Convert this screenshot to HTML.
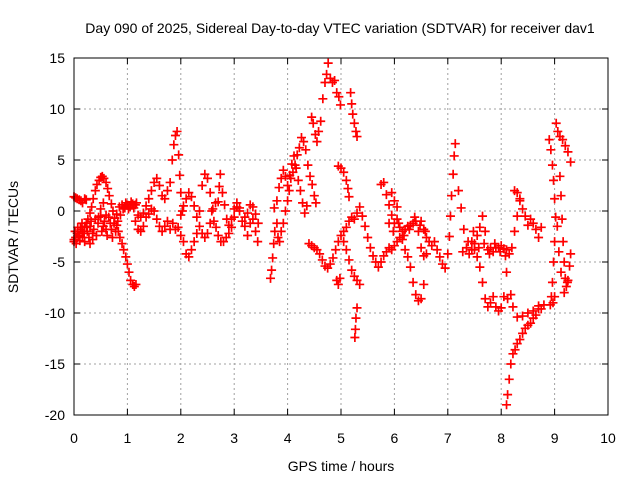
<!DOCTYPE html>
<html><head><meta charset="utf-8"><style>
body{margin:0;background:#fff}
svg text{font-family:"Liberation Sans",sans-serif;font-size:14px;fill:#000}
</style></head><body>
<svg id="chart" width="640" height="480" xmlns="http://www.w3.org/2000/svg">
<text x="340" y="33" text-anchor="middle">Day 090 of 2025, Sidereal Day-to-day VTEC variation (SDTVAR) for receiver dav1</text>
<text x="341" y="471" text-anchor="middle">GPS time / hours</text>
<text transform="translate(18,237) rotate(-90)" text-anchor="middle">SDTVAR / TECUs</text>
<g id="grid"></g>
<g id="ticks"></g>
<g id="marks"></g>
<rect x="74" y="58" width="534" height="357" fill="none" stroke="#000" stroke-width="1"/>
</svg>
<script>
const xTicks=[0,1,2,3,4,5,6,7,8,9,10];
const yTicks=[15,10,5,0,-5,-10,-15,-20];
const arcA=[[0,-3],[0.03,-2.6],[0.06,-2.2],[0.1,-2.5],[0.13,-1.8],[0.16,-2],[0.2,-1.5],[0.23,-1.2],[0.26,-0.8],[0.3,-0.2],[0.33,0.4],[0.36,1.2],[0.4,2],[0.43,2.6],[0.47,3],[0.5,3.3],[0.53,3.4],[0.56,3.2],[0.6,2.8],[0.63,2.2],[0.66,1.5],[0.7,0.7],[0.73,0],[0.76,-0.7],[0.8,-1.4],[0.83,-2],[0.86,-2.6],[0.9,-3.2],[0.93,-3.8],[0.97,-4.5],[1.0,-5.2],[1.03,-6],[1.06,-6.8],[1.1,-7.2],[1.13,-7.4],[1.16,-7.2]];
const arcB=[[0,1.4],[0.03,1.3],[0.06,1.2],[0.1,1.1],[0.13,1.0],[0.16,0.8],[0.2,1.2],[0.23,1.1]];
const arcC=[[0,-2.8],[0.04,-3.2],[0.08,-2.4],[0.12,-1.6],[0.16,-2.6],[0.2,-3],[0.25,-2],[0.3,-1.5],[0.35,-2.2],[0.4,-0.8],[0.45,-1.2],[0.5,-0.5],[0.55,-1.5],[0.6,-1.8],[0.65,-0.6],[0.7,-1.8],[0.75,-1.2],[0.8,-0.3],[0.85,0.4],[0.9,0.6],[0.95,0.3],[1.0,0.6],[1.05,0.4],[1.1,0.7],[1.15,0.6],[1.2,-0.4],[1.25,-0.6],[1.3,-0.2],[1.35,0.5],[1.4,1.2],[1.45,2],[1.5,2.8],[1.55,3.2],[1.6,2.5],[1.65,1.5],[1.7,1.2],[1.75,2],[1.8,2.8],[1.84,5],[1.87,6.5],[1.9,7.4],[1.93,7.8],[1.96,5.5],[1.98,3.5],[2.0,1.8],[2.03,0]];
const arcC2=[[0.02,-2],[0.07,-1.6],[0.11,-2.9],[0.15,-1.2],[0.19,-2.2],[0.24,-1.6],[0.28,-2.6],[0.32,-1],[0.37,-1.8],[0.42,-2.4],[0.46,-0.6],[0.52,-2],[0.57,-1],[0.62,-2.4],[0.68,-1.2],[0.72,-2.6],[0.78,-2],[0.82,-1],[0.87,-0.4],[0.92,0.2],[0.97,0.8],[1.02,0.2],[1.07,0.9],[1.12,0.3],[1.17,0.8],[0.5,0.2],[0.55,0.8],[0.6,-0.4],[0.3,-3.2],[0.35,-2.8]];
const arcD=[[1.15,-1],[1.2,-1.8],[1.25,-2],[1.3,-1.5],[1.35,-0.6],[1.4,-0.3],[1.45,0.2],[1.5,0],[1.55,-0.8],[1.6,-1.5],[1.65,-2],[1.7,-1.5],[1.75,-1],[1.8,-1.8],[1.85,-1.2],[1.9,-1.8],[1.95,-1.6],[2.0,-2.4],[2.05,-3],[2.1,-4.2],[2.15,-4.5],[2.2,-3.8],[2.25,-3],[2.3,-2.2],[2.35,0],[2.4,2.5],[2.45,3.6],[2.5,3.2],[2.55,1.8],[2.58,0],[2.62,-1],[2.66,-1.6],[2.7,-2.4],[2.75,-3],[2.8,-3],[2.85,-2.6],[2.9,-2.2],[2.95,-1.6],[3.0,-0.6],[3.05,0.4],[3.1,0],[3.15,-1],[3.2,-0.6],[3.25,-0.2],[3.3,0.6],[3.35,-0.8],[3.4,-2],[3.44,-3]];
const arcE=[[2.0,-0.4],[2.05,0.5],[2.1,1.2],[2.15,1.8],[2.2,1.4],[2.25,0.5],[2.3,-0.6],[2.35,-1.5],[2.4,-2.2],[2.45,-2.6],[2.5,-2.2],[2.55,-1.2],[2.6,0.2],[2.65,0.8],[2.7,0.9],[2.72,2.4],[2.74,3.6],[2.78,1.8],[2.82,0.6],[2.86,-0.8],[2.9,-1.4],[2.95,-0.8],[3.0,0.2],[3.05,0.8],[3.1,0.3],[3.2,-1.5],[3.25,-2.4],[3.3,-1.2],[3.35,0.4],[3.4,-0.3],[3.45,-1.2]];
const arcF=[[3.68,-6.6],[3.7,-5.8],[3.72,-4.6],[3.74,-3.2],[3.76,-2],[3.8,-1.2],[3.82,-2.6],[3.85,-3],[3.88,-2],[3.92,-1.2],[3.96,0],[4.0,1],[4.03,2],[4.06,3.2],[4.1,3.8],[4.14,4.5],[4.18,5.5],[4.22,6.2],[4.26,7.2],[4.3,6.8],[4.34,6],[4.38,4.5],[4.42,3.4],[4.46,2.6],[4.5,1.5],[4.53,0.8]];
const arcG=[[3.75,0.3],[3.8,1],[3.84,2.3],[3.88,3.2],[3.92,4],[3.96,3.4],[4.0,2.5],[4.04,3.5],[4.08,4.6],[4.12,5.4],[4.16,4.2],[4.2,3],[4.24,2],[4.28,0.8],[4.32,-0.2],[4.36,0.5]];
const arcH=[[4.45,9.2],[4.48,8.6],[4.52,7.5],[4.55,6.8],[4.58,7.8],[4.62,8.8],[4.66,11],[4.7,12.6],[4.73,13.4],[4.76,14.5],[4.8,13],[4.84,12.6],[4.88,12.8],[4.92,11.6],[4.96,11.2],[4.99,10.4]];
const arcI=[[4.4,-3.2],[4.45,-3.4],[4.5,-3.6],[4.55,-3.8],[4.6,-4.2],[4.65,-4.8],[4.7,-5.4],[4.75,-5.6],[4.8,-5.2],[4.85,-4.6],[4.9,-3.8],[4.95,-3],[5.0,-2.4],[5.05,-2],[5.1,-1.6],[5.15,-1],[5.2,-0.6],[5.25,-0.8],[5.3,-0.2],[5.35,0.4]];
const arcJ=[[4.95,4.4],[5.0,4.2],[5.05,3.8],[5.1,3],[5.13,2.2],[5.15,1.4],[5.05,-3],[5.1,-3.8],[5.15,-4.8],[5.2,-5.8],[5.25,-6.4],[5.3,-6.8],[5.35,-7.2],[4.92,-6.8],[4.95,-7.2],[4.98,-6.6]];
const arcK=[[5.18,11.6],[5.2,10.5],[5.22,9.5],[5.25,8.6],[5.28,7.8],[5.3,7.3],[5.3,-9.5],[5.28,-10.5],[5.27,-11.6],[5.26,-12.4]];
const arcL=[[5.4,-0.5],[5.45,-1.5],[5.5,-2.6],[5.55,-3.6],[5.6,-4.4],[5.65,-5],[5.7,-5.5],[5.75,-5],[5.8,-4.4],[5.85,-4],[5.9,-3.6],[5.95,-3.8],[6.0,-3.4],[6.05,-3],[6.1,-2.6],[6.15,-2],[6.2,-1.8],[6.25,-1.5],[6.3,-1.4],[6.35,-1.2],[6.4,-1],[6.45,-2],[6.5,-3.6],[6.55,-4.4],[6.6,-4.2]];
const arcM=[[5.75,2.6],[5.8,2.8],[5.85,1.6],[5.9,0.6],[5.95,-0.4],[6.0,-1.2],[6.05,-0.8],[6.1,-1.6],[6.15,-2.8],[6.2,-3.8],[6.25,-4.5],[6.3,-5.5],[6.35,-7],[6.4,-8.2],[6.45,-8.8],[6.5,-8.6],[6.55,-7.2],[5.95,1.8],[6.0,1],[6.05,0.4]];
const arcN=[[6.5,-1],[6.55,-1.8],[6.6,-2.6],[6.65,-3],[6.7,-3.4],[6.75,-3],[6.8,-3.8],[6.85,-4.5],[6.9,-5.2],[6.95,-5.6],[7.0,-4.2],[7.03,-2.5],[7.05,-0.5],[7.07,1.5],[7.1,3.6],[7.12,5.4],[7.14,6.6]];
const arcO=[[7.2,2],[7.25,0.3],[7.3,-1.8],[7.35,-3.6],[7.4,-4.2],[7.45,-3.8],[7.5,-3.2],[7.55,-2.4],[7.6,-1.6],[7.65,-0.5],[7.7,-2],[7.75,-3.8],[7.8,-3.6],[7.85,-4],[7.9,-3.6],[7.95,-3.6],[8.0,-3.4],[8.05,-3.7],[8.1,-3.8],[8.15,-4.2],[8.2,-3.6],[8.25,-2],[8.3,-0.5],[8.35,1.2]];
const arcP=[[7.45,-3],[7.5,-3.8],[7.55,-4.5],[7.6,-5.5],[7.65,-7],[7.7,-8.6],[7.75,-9.4],[7.8,-9],[7.85,-8.4],[7.9,-9.4],[7.95,-9.8],[8.0,-9.5],[8.05,-8.4],[8.1,-6],[8.12,-8.6]];
const arcQ=[[8.1,-19],[8.12,-18],[8.15,-16.5],[8.18,-15],[8.22,-14],[8.26,-13.6],[8.3,-13],[8.35,-12.6],[8.4,-12],[8.45,-11.5],[8.5,-11.2],[8.55,-11],[8.6,-10.5],[8.65,-10.2],[8.7,-9.6],[8.18,-8.2],[8.22,-9.4],[8.3,-10.4],[8.4,-10.3],[8.5,-10],[8.6,-9.8],[8.7,-9.3]];
const arcR=[[8.25,2],[8.3,1.8],[8.35,1],[8.4,0.2],[8.45,-0.5],[8.5,-1.4],[8.55,-0.8],[8.6,-1.2],[8.65,-1.8],[8.7,-2.6],[8.75,-1.6]];
const arcS=[[8.9,7],[8.93,6],[8.96,4.5],[8.98,3],[9.0,1.2],[9.02,-0.6],[9.0,-3],[8.98,-5],[8.96,-7],[8.94,-8.4],[8.92,-9.2],[8.97,-9],[9.0,-8.4]];
const arcT=[[9.03,8.6],[9.06,7.8],[9.1,7.3],[9.15,7],[9.2,6.4],[9.25,5.8],[9.3,4.8],[9.1,3.4],[9.12,1.5],[9.14,-0.8],[9.16,-3],[9.18,-5],[9.2,-6.6],[9.22,-7.4],[9.25,-6.8],[9.28,-5.4],[9.3,-4.2]];
const arcU=[[5.9,-1.2],[5.98,-2],[6.08,-1.2],[6.18,-2.4],[6.28,-1.8],[6.38,-0.6],[6.48,-1.4],[6.58,-2],[7.28,-4],[7.38,-3],[7.48,-2],[7.58,-3.6],[7.68,-3.2],[7.78,-4.2],[7.88,-3.2],[7.98,-4],[8.08,-4.4],[8.8,-9.2],[8.75,-9.6],[9.05,-1.5],[9.08,-4],[9.12,-6],[9.18,-8],[9.24,-7]];
const series=[arcA,arcB,arcC,arcC2,arcD,arcE,arcF,arcG,arcH,arcI,arcJ,arcK,arcL,arcM,arcN,arcO,arcP,arcQ,arcR,arcS,arcT,arcU];
const NS='http://www.w3.org/2000/svg';
const X0=74,X1=608,Y0=415,Y1=58;
function sx(t){return X0+(t-0)/(10-0)*(X1-X0);}
function sy(v){return Y0-(v-(-20))/(15-(-20))*(Y0-Y1);}
function mk(tag,a,parent){const e=document.createElementNS(NS,tag);for(const k in a)e.setAttribute(k,a[k]);parent.appendChild(e);return e;}
const grid=document.getElementById('grid'),ticks=document.getElementById('ticks'),marks=document.getElementById('marks');
xTicks.forEach(t=>{const x=sx(t);
 if(t>0&&t<10){const g=mk('line',{x1:x,y1:Y1,x2:x,y2:Y0,stroke:'#a0a0a0','stroke-dasharray':'2,3'},grid);
 
 }
 mk('line',{x1:x,y1:Y0,x2:x,y2:Y0-6,stroke:'#000'},ticks);mk('line',{x1:x,y1:Y1,x2:x,y2:Y1+6,stroke:'#000'},ticks);
 const l=mk('text',{x:x,y:443,'text-anchor':'middle'},ticks);l.textContent=t;
 
 });
yTicks.forEach(v=>{const y=sy(v);
 if(v>-20&&v<15){const g=mk('line',{x1:X0,y1:y,x2:X1,y2:y,stroke:'#a0a0a0','stroke-dasharray':'2,3'},grid);
 
 }
 mk('line',{x1:X0,y1:y,x2:X0+6,y2:y,stroke:'#000'},ticks);mk('line',{x1:X1,y1:y,x2:X1-6,y2:y,stroke:'#000'},ticks);
 const l=mk('text',{x:X0-9,y:y+5,'text-anchor':'end'},ticks);l.textContent=v;
 
 });
series.forEach(arc=>arc.forEach(p=>{const x=sx(p[0]),y=sy(p[1]);
 const m=mk('path',{d:`M${x-4.5},${y}h9M${x},${y-4.5}v9`,stroke:'#ff0000','stroke-width':1.7,fill:'none'},marks);
 
 }));
</script>
</body></html>
